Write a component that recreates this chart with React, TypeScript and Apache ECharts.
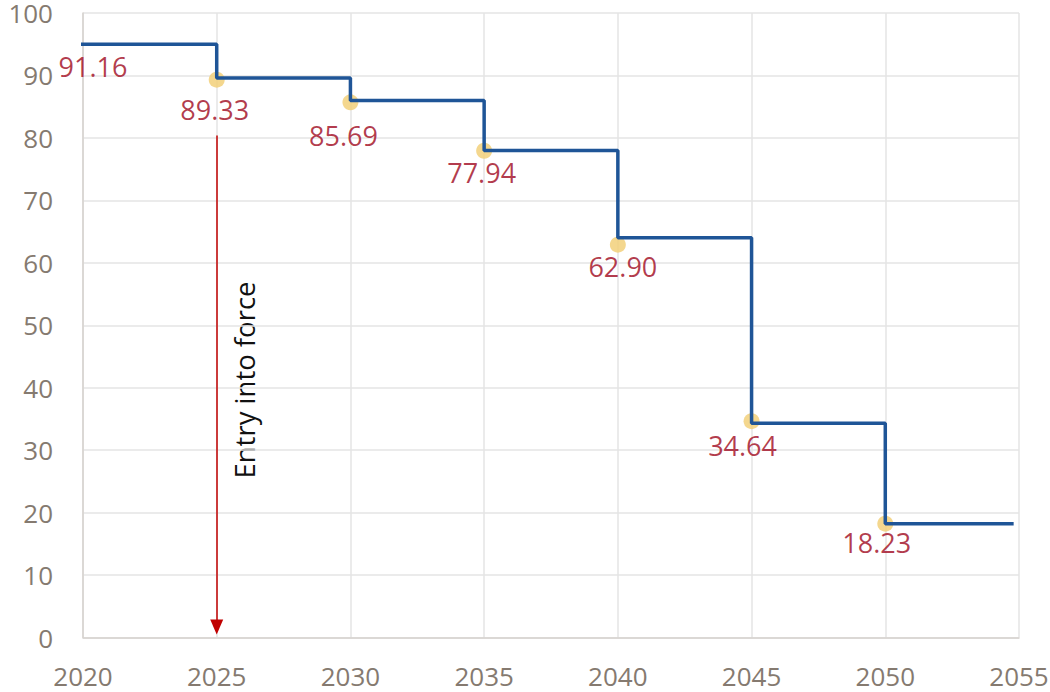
import React, { useEffect, useRef } from "react";
import * as echarts from "echarts";

// Step (target) line
const stepYears = [2019.9, 2025, 2030, 2035, 2040, 2045, 2050, 2054.8];
const stepValues = [95.0, 89.6, 86.0, 78.0, 64.0, 34.3, 18.2, 18.2];

// Points with labels
const pointYears = [2020, 2025, 2030, 2035, 2040, 2045, 2050];
const pointValues = [91.16, 89.33, 85.69, 77.94, 62.9, 34.64, 18.23];
const pointVisible = [false, true, true, true, true, true, true];
const labelOffsets = [
  [10, -2],
  [-2, 30],
  [-7, 33],
  [-2.5, 22],
  [5, 22],
  [-9, 24],
  [-8.5, 18.5],
];

// Arrow annotation
const arrowYear = 2025;
const arrowTop = 80.4;
const arrowBottom = 1.7;
const annotationText = "Entry into force";

const FONT = "'Open Sans', 'Noto Sans', sans-serif";
const DOT = 16;

export default function App() {
  const ref = useRef<HTMLDivElement>(null);
  useEffect(() => {
    if (!ref.current) return;
    const chart = echarts.init(ref.current, null, { renderer: "svg" });
    chart.setOption({
      animation: false,
      backgroundColor: "#ffffff",
      grid: {
        left: 83,
        right: 31,
        top: 13,
        bottom: 54.5,
        containLabel: false,
        outerBoundsMode: "none",
      },
      xAxis: {
        type: "value",
        min: 2020,
        max: 2055,
        interval: 5,
        axisLine: { show: true, lineStyle: { color: "#D6D2CE", width: 1.5 } },
        axisTick: { show: false },
        splitLine: { show: true, lineStyle: { color: "#E4E4E4", width: 1.5 } },
        axisLabel: {
          color: "#857A70",
          fontSize: 26,
          fontFamily: FONT,
          margin: 25,
          formatter: (v: number) => String(v),
        },
      },
      yAxis: {
        type: "value",
        min: 0,
        max: 100,
        interval: 10,
        axisLine: { show: true, lineStyle: { color: "#D6D2CE", width: 1.5 } },
        axisTick: { show: false },
        splitLine: { show: true, lineStyle: { color: "#E4E4E4", width: 1.5 } },
        axisLabel: {
          color: "#857A70",
          fontSize: 26,
          fontFamily: FONT,
          margin: 30,
        },
      },
      series: [
        {
          type: "scatter",
          z: 2,
          symbolSize: DOT,
          itemStyle: { color: "#F2D07A", opacity: 0.85 },
          data: pointYears.map((yr, i) => {
            const s = pointVisible[i] ? DOT : 0;
            return {
              value: [yr, pointValues[i]],
              symbolSize: s,
              label: {
                position: [s / 2 + labelOffsets[i][0], s / 2 + labelOffsets[i][1]],
              },
            };
          }),
          label: {
            show: true,
            color: "#A6192E",
            fontSize: 27,
            fontFamily: FONT,
            align: "center",
            verticalAlign: "middle",
            formatter: (p: any) => p.value[1].toFixed(2),
          },
        },
        {
          type: "line",
          z: 3,
          step: "end",
          showSymbol: false,
          symbol: "none",
          lineStyle: { color: "#1F5597", width: 3.5 },
          data: stepYears.map((yr, i) => [yr, stepValues[i]]),
          markLine: {
            silent: true,
            symbol: ["none", "triangle"],
            symbolSize: [13, 15],
            label: { show: false },
            lineStyle: { color: "#C00000", width: 1.5, type: "solid" },
            data: [
              [
                { coord: [arrowYear, arrowTop], symbol: "none" },
                { coord: [arrowYear, arrowBottom], symbol: "triangle" },
              ],
            ],
          },
        },
      ],
      graphic: [
        {
          type: "text",
          x: 244,
          y: 380,
          rotation: Math.PI / 2,
          style: {
            text: annotationText,
            fill: "#111111",
            fontSize: 27.5,
            fontFamily: FONT,
            textAlign: "center",
            textVerticalAlign: "middle",
          },
        },
      ],
    });
    return () => chart.dispose();
  }, []);
  return (
    <div
      ref={ref}
      style={{ position: "fixed", left: 0, top: 0, width: 1050, height: 692 }}
    />
  );
}
